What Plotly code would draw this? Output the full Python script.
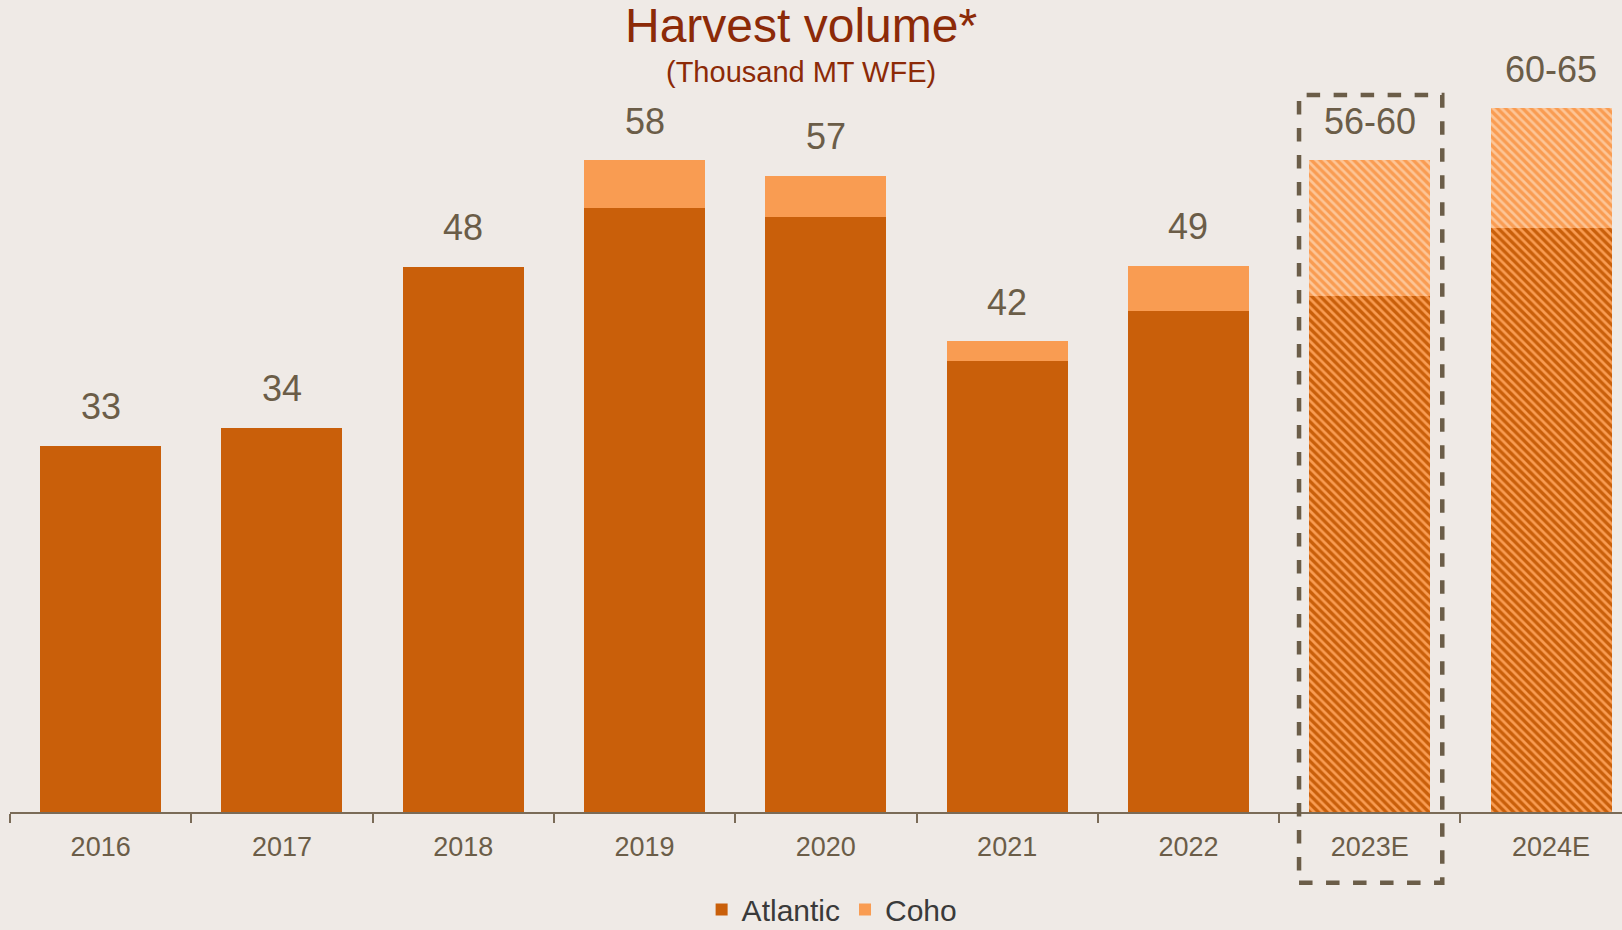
import plotly.graph_objects as go

years = ["2016", "2017", "2018", "2019", "2020", "2021", "2022", "2023E", "2024E"]
atlantic = [32.6, 34.2, 48.5, 53.7, 52.9, 40.1, 44.6, 45.9, 52.0]
coho = [0, 0, 0, 4.3, 3.7, 1.8, 4.0, 12.1, 10.6]
labels = ["33", "34", "48", "58", "57", "42", "49", "56-60", "60-65"]
estimate = [False, False, False, False, False, False, False, True, True]

C_ATL = "#c95f0a"
C_COHO = "#f99c52"
C_COHO_LIGHT = "#fdc596"
C_TEXT = "#6b5d48"
C_TITLE = "#8c2a08"
BG = "#efeae6"
FONT = "Liberation Sans, Arial, sans-serif"

act_x = [y for y, e in zip(years, estimate) if not e]
est_x = [y for y, e in zip(years, estimate) if e]
atl_act = [v for v, e in zip(atlantic, estimate) if not e]
atl_est = [v for v, e in zip(atlantic, estimate) if e]
coho_act = [v for v, e in zip(coho, estimate) if not e]
coho_est = [v for v, e in zip(coho, estimate) if e]

fig = go.Figure()
fig.add_trace(go.Bar(x=act_x, y=atl_act, name="Atlantic", marker=dict(color=C_ATL, line=dict(width=0)),
                     legendgroup="a"))
fig.add_trace(go.Bar(x=est_x, y=atl_est, name="Atlantic", showlegend=False, legendgroup="a",
                     marker=dict(color=C_ATL, line=dict(width=0),
                                 pattern=dict(shape="\\", bgcolor=C_ATL, fgcolor=C_COHO,
                                              fgopacity=1, size=6, solidity=0.45, fillmode="replace"))))
fig.add_trace(go.Bar(x=act_x, y=coho_act, name="Coho", marker=dict(color=C_COHO, line=dict(width=0)),
                     legendgroup="c"))
fig.add_trace(go.Bar(x=est_x, y=coho_est, name="Coho", showlegend=False, legendgroup="c",
                     marker=dict(color=C_COHO, line=dict(width=0),
                                 pattern=dict(shape="\\", bgcolor=C_COHO, fgcolor=C_COHO_LIGHT,
                                              fgopacity=1, size=6, solidity=0.45, fillmode="replace"))))

annotations = []
for i, (a, c, lab) in enumerate(zip(atlantic, coho, labels)):
    annotations.append(dict(x=i, y=a + c, text=lab, showarrow=False, xref="x", yref="y",
                            yanchor="middle", yshift=39,
                            font=dict(family=FONT, size=36, color=C_TEXT)))
annotations.append(dict(x=0.491, xref="paper", y=0.968, yref="paper", xanchor="center", yanchor="middle",
                        text="Harvest volume*", showarrow=False,
                        font=dict(family=FONT, size=48, color=C_TITLE)))
annotations.append(dict(x=0.491, xref="paper", y=0.911, yref="paper", xanchor="center", yanchor="middle",
                        text="(Thousand MT WFE)", showarrow=False,
                        font=dict(family=FONT, size=29, color=C_TITLE)))

fig.update_layout(
    width=1622, height=930,
    margin=dict(l=10, r=0, t=0, b=118, autoexpand=False),
    paper_bgcolor=BG, plot_bgcolor=BG,
    barmode="stack", bargap=0.333,
    showlegend=True,
    legend=dict(orientation="h", x=0.51, xanchor="center", y=-0.12, yanchor="middle",
                font=dict(family=FONT, size=30, color="#3a3a3a"), bgcolor="rgba(0,0,0,0)",
                itemwidth=30, traceorder="normal"),
    annotations=annotations,
    xaxis=dict(type="category", categoryorder="array", categoryarray=years,
               range=[-0.5, -0.5 + 1612 / 181.3],
               showline=True, linecolor="#7a6b57", linewidth=2,
               ticks="outside", tickson="boundaries", ticklen=9, tickwidth=2, tickcolor="#7a6b57",
               ticklabelstandoff=10,
               tickfont=dict(family=FONT, size=27, color=C_TEXT), showgrid=False, zeroline=False),
    yaxis=dict(range=[0, 812 / 11.24], visible=False, showgrid=False, zeroline=False),
    shapes=[dict(type="rect", xref="x", yref="paper", x0=6.61, x1=7.4, y0=-0.087, y1=0.883,
                 line=dict(color="#6b5d48", width=4.5, dash="dash"), layer="above")],
)

fig.write_html("out.html", config={"displayModeBar": False},
               post_script="document.body.style.margin='0';document.body.style.background='#efeae6';")
